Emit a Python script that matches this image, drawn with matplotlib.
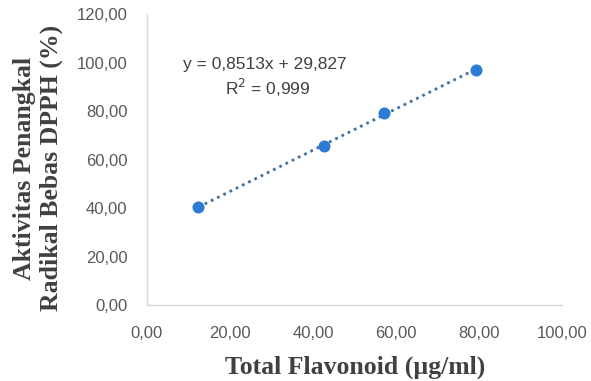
import numpy as np
import matplotlib.pyplot as plt
from matplotlib.ticker import FuncFormatter

# Total flavonoid (ug/ml) vs DPPH scavenging activity (%)
flavonoid = [12.4, 42.7, 57.2, 79.2]
aktivitas = [40.4, 65.4, 79.3, 96.8]
slope = 0.8513
intercept = 29.827
x_ticks = [0, 20, 40, 60, 80, 100]
y_ticks = [0, 20, 40, 60, 80, 100, 120]

def comma_fmt(v, pos):
    return ('%.2f' % v).replace('.', ',')

fig = plt.figure(figsize=(5.91, 3.81), dpi=100)
ax = fig.add_axes([0.2487, 0.1995, 0.7023, 0.7635])

# trendline over data range
xs = np.array([min(flavonoid), max(flavonoid)])
ax.plot(xs, slope * xs + intercept, linestyle=(0, (1, 1.5)), color='#41719c',
        linewidth=2, zorder=2)
ax.scatter(flavonoid, aktivitas, s=75, color='#2e7bd6', zorder=3, linewidths=0)

ax.set_xlim(0, 100)
ax.set_ylim(0, 120)
ax.set_xticks(x_ticks)
ax.set_yticks(y_ticks)
ax.xaxis.set_major_formatter(FuncFormatter(comma_fmt))
ax.yaxis.set_major_formatter(FuncFormatter(comma_fmt))

for s in ['top', 'right']:
    ax.spines[s].set_visible(False)
for s in ['left', 'bottom']:
    ax.spines[s].set_color('#d9d9d9')
    ax.spines[s].set_linewidth(1)

ax.tick_params(axis='x', length=0, pad=15, labelsize=12, labelcolor='#595959')
ax.tick_params(axis='y', length=0, pad=14, labelsize=12, labelcolor='#595959')
for lab in ax.get_xticklabels() + ax.get_yticklabels():
    lab.set_family('Liberation Sans')

ax.text(8.6, 97.5, 'y = 0,8513x + 29,827', fontsize=12.5, color='#404040',
        family='Liberation Sans')
ax.text(29, 86.5, 'R$^2$ = 0,999', fontsize=12.5, color='#404040',
        family='Liberation Sans', ha='center')

fig.text(0.6015, 0.037, 'Total Flavonoid (µg/ml)', family='Liberation Serif',
         fontweight='bold', fontsize=18.5, color='#404040',
         ha='center', va='center')
fig.text(0.064, 0.559, 'Aktivitas Penangkal\nRadikal Bebas DPPH (%)',
         family='Liberation Serif', fontweight='bold', fontsize=18.5,
         color='#404040', rotation=90, ha='center', va='center',
         linespacing=1.2)

fig.savefig('out.png', dpi=100)
